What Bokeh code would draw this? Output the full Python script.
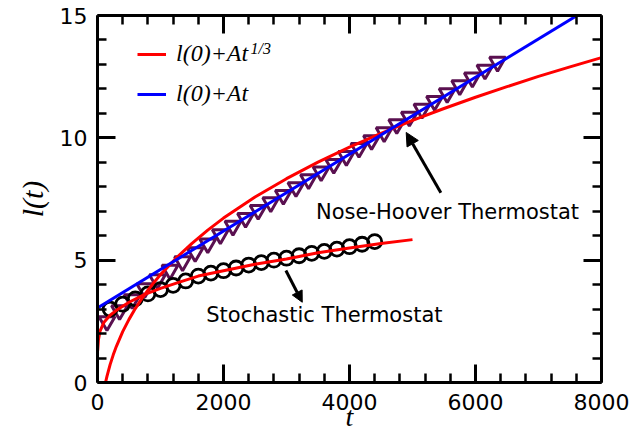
from bokeh.plotting import figure
from bokeh.models import (Range1d, LinearAxis, FixedTicker, Legend, LegendItem,
                          Label, Arrow, NormalHead)
from bokeh.embed import file_html
from bokeh.resources import INLINE

# ---------------- data ----------------
# Nose-Hoover thermostat (open down-triangles)
nh_t = [150, 350, 550, 750, 950, 1150, 1350, 1550, 1750, 1950, 2150, 2350,
        2550, 2750, 2950, 3150, 3350, 3550, 3750, 3950, 4150, 4350, 4550,
        4750, 4950, 5150, 5350, 5550, 5750, 5950, 6150, 6350]
nh_l = [2.5, 2.95, 3.4, 3.85, 4.22, 4.6, 4.95, 5.32, 5.68, 6.05, 6.4, 6.72,
        7.05, 7.36, 7.66, 7.98, 8.3, 8.62, 8.93, 9.25, 9.58, 9.9, 10.22,
        10.55, 10.86, 11.18, 11.5, 11.82, 12.14, 12.46, 12.78, 13.1]

# Stochastic thermostat (open circles)
st_t = [200, 400, 600, 800, 1000, 1200, 1400, 1600, 1800, 2000, 2200, 2400,
        2600, 2800, 3000, 3200, 3400, 3600, 3800, 4000, 4200, 4400]
st_l = [3.0, 3.2, 3.42, 3.62, 3.8, 3.97, 4.15, 4.35, 4.47, 4.57, 4.68, 4.8,
        4.9, 5.0, 5.08, 5.18, 5.28, 5.36, 5.45, 5.55, 5.65, 5.76]

# l(0)+A t^(1/3) fit, Nose-Hoover
fit_nh_t = [110, 130, 150, 200, 250, 300, 400, 500, 600, 700, 800, 900, 1000,
            1250, 1500, 1750, 2000, 2500, 3000, 3500, 4000, 4500, 5000, 5500,
            6000, 6500, 7000, 7500, 8000]
fit_nh_l = [-0.21, 0.03, 0.25, 0.73, 1.13, 1.48, 2.08, 2.58, 3.02, 3.42, 3.77,
            4.10, 4.41, 5.09, 5.69, 6.23, 6.72, 7.58, 8.33, 9.01, 9.62, 10.18,
            10.71, 11.2, 11.66, 12.09, 12.51, 12.9, 13.28]

# l(0)+A t^(1/3) fit, stochastic
fit_st_t = [3, 15, 40, 100, 200, 300, 500, 750, 1000, 1300, 1600, 2000,
            2500, 3000, 3500, 4000, 4500, 5000]
fit_st_l = [1.3, 1.75, 2.1, 2.45, 2.75, 2.95, 3.28, 3.6, 3.85, 4.1, 4.35,
            4.57, 4.83, 5.05, 5.3, 5.5, 5.68, 5.84]

# l(0)+A t linear fit, Nose-Hoover
lin_t = [0, 8000]
lin_l = [3.05, 15.61]

# axis ticks
x_major = [0, 2000, 4000, 6000, 8000]
x_minor = [400, 800, 1200, 1600, 2400, 2800, 3200, 3600, 4400, 4800, 5200,
           5600, 6400, 6800, 7200, 7600]
y_major = [0, 5, 10, 15]
y_minor = [1, 2, 3, 4, 6, 7, 8, 9, 11, 12, 13, 14]

legend_labels = ["l(0)+At", "l(0)+At"]
legend_sup = "1/3"
note_nh = "Nose-Hoover Thermostat"
note_st = "Stochastic Thermostat"

# ---------------- figure ----------------
p = figure(width=632, height=437, x_range=Range1d(0, 8000), y_range=Range1d(0, 15),
           output_backend="svg", toolbar_location=None,
           min_border_left=97, min_border_right=31, min_border_top=15, min_border_bottom=55)
p.xgrid.visible = False
p.ygrid.visible = False
p.outline_line_color = None

PURPLE = "#5a1050"

# markers first, lines drawn over them
p.scatter(nh_t, nh_l, marker="inverted_triangle", size=16, fill_color=None,
          line_color=PURPLE, line_width=3)
p.scatter(st_t, st_l, marker="circle", size=14, fill_color=None,
          line_color="black", line_width=2.8)

r_nh = p.line(fit_nh_t, fit_nh_l, line_color="#ff0000", line_width=3)
p.line(fit_st_t, fit_st_l, line_color="#ff0000", line_width=3)
r_lin = p.line(lin_t, lin_l, line_color="#0000ff", line_width=3)

# axes styling
def style_axis(ax, xt):
    ax.ticker = FixedTicker(ticks=x_major, minor_ticks=x_minor) if xt else \
        FixedTicker(ticks=y_major, minor_ticks=y_minor)
    ax.axis_line_width = 3
    ax.axis_line_color = "black"
    ax.major_tick_in = 18
    ax.major_tick_out = 0
    ax.minor_tick_in = 9
    ax.minor_tick_out = 0
    ax.major_tick_line_width = 3
    ax.minor_tick_line_width = 2.5
    ax.major_tick_line_color = "black"
    ax.minor_tick_line_color = "black"
    ax.major_label_text_font = "DejaVu Sans"
    ax.major_label_text_font_size = "22px"
    ax.major_label_text_color = "black"

xa = p.xaxis[0]
ya = p.yaxis[0]
style_axis(xa, True)
style_axis(ya, False)
xa.major_label_standoff = 11
ya.major_label_standoff = 10
xa.axis_label = "t"
ya.axis_label = "l(t)"
for ax in (xa, ya):
    ax.axis_label_text_font = "Liberation Serif"
    ax.axis_label_text_font_style = "italic"
    ax.axis_label_text_color = "black"
xa.axis_label_text_font_size = "28px"
ya.axis_label_text_font_size = "30px"
xa.axis_label_standoff = -12
ya.axis_label_standoff = 8

top = LinearAxis()
right = LinearAxis()
style_axis(top, True)
style_axis(right, False)
for ax in (top, right):
    ax.major_label_text_font_size = "1px"
    ax.major_label_text_color = None
    ax.major_label_standoff = 0
p.add_layout(top, "above")
p.add_layout(right, "right")

# legend
legend = Legend(items=[LegendItem(label=legend_labels[0], renderers=[r_nh]),
                       LegendItem(label=legend_labels[1], renderers=[r_lin])],
                location=(40, 275))
legend.border_line_color = None
legend.background_fill_alpha = 0
legend.padding = 0
legend.margin = 0
legend.spacing = 13
legend.glyph_width = 29
legend.glyph_height = 24
legend.label_height = 24
legend.label_standoff = 10
legend.label_text_font = "Liberation Serif"
legend.label_text_font_style = "italic"
legend.label_text_font_size = "24px"
legend.label_text_color = "black"
p.add_layout(legend)

p.add_layout(Label(x=153, y=334, x_units="screen", y_units="screen", text=legend_sup,
                   text_font="Liberation Serif", text_font_style="italic",
                   text_font_size="16px", text_baseline="middle", text_color="black"))

# annotations
p.add_layout(Label(x=5556, y=6.95, text=note_nh, text_font="DejaVu Sans",
                   text_font_size="21px", text_align="center", text_baseline="middle",
                   text_color="black"))
p.add_layout(Label(x=3601, y=2.74, text=note_st, text_font="DejaVu Sans",
                   text_font_size="21px", text_align="center", text_baseline="middle",
                   text_color="black"))

p.add_layout(Arrow(x_start=5450, y_start=7.76, x_end=4900, y_end=10.22,
                   line_width=3, line_color="black",
                   end=NormalHead(size=13, fill_color="black", line_color="black")))
p.add_layout(Arrow(x_start=2990, y_start=4.58, x_end=3250, y_end=3.28,
                   line_width=3, line_color="black",
                   end=NormalHead(size=11, fill_color="black", line_color="black")))

open("out.html", "w").write(file_html(p, INLINE))
